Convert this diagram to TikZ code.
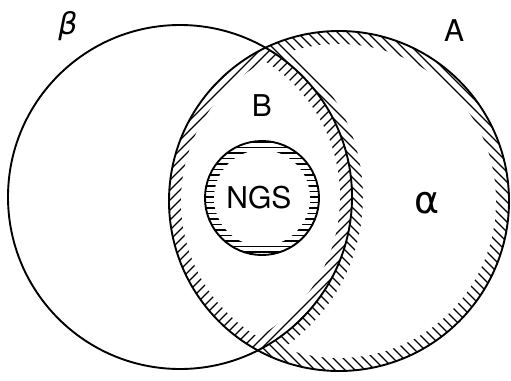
\documentclass[tikz,border=0pt]{standalone}
\usepackage{fontspec}
\setmainfont{TeX Gyre Heros}
\newfontfamily\greekfont{DejaVu Sans}
\begin{document}
\begin{tikzpicture}[x=1pt,y=-1pt,
  hatch/.style={line width=1.35pt},
  rim/.style={line width=1.9pt},
  lab/.style={inner sep=0pt,font=\fontsize{30}{30}\selectfont}]
\useasboundingbox (0,0) rectangle (511,380);
\coordinate (Bc) at (180,197);
\coordinate (Ac) at (339,201);
\coordinate (Nc) at (262,198);
% lens band, hatched "/"
\begin{scope}
  \clip (Ac) circle[radius=170pt];
  \clip (Bc) circle[radius=172pt];
  \foreach \c in {0,10,...,900} \draw[hatch] (\c,0) -- (\c-400,400);
  \clip (Ac) circle[radius=158pt];
  \fill[white] (Bc) circle[radius=160pt];
\end{scope}
% alpha band, hatched "\"
\begin{scope}
  \clip (Ac) circle[radius=170pt];
  \begin{scope}[even odd rule]
    \clip (-10,-10) rectangle (520,390) (Bc) circle[radius=172pt];
    \foreach \c in {-405,-395,...,520} \draw[hatch] (\c,0) -- (\c+400,400);
    \clip (Ac) circle[radius=157pt];
    \fill[white] (-10,-10) rectangle (520,390) (Bc) circle[radius=183pt];
  \end{scope}
\end{scope}
% NGS band, horizontal hatching
\begin{scope}
  \clip (Nc) circle[radius=57pt];
  \foreach \y in {142,147.5,...,256} \draw[hatch] (200,\y) -- (325,\y);
  \fill[white] (Nc) circle[radius=48pt];
\end{scope}
% outlines
\draw[rim] (Bc) circle[radius=172pt];
\draw[rim] (Ac) circle[radius=170pt];
\draw[rim] (Nc) circle[radius=57pt];
% labels
\node[lab] (lbeta) at (68,26) {\greekfont\itshape\fontsize{30}{30}\selectfont β};
\node[lab] (lA) at (454,31) {A};
\node[lab] (lB) at (262,106) {B};
\node[lab] (lN) at (259,198) {NGS};
\node[lab] (lalpha) at (427,203) {\greekfont\fontsize{38}{38}\selectfont α};
\end{tikzpicture}
\end{document}
